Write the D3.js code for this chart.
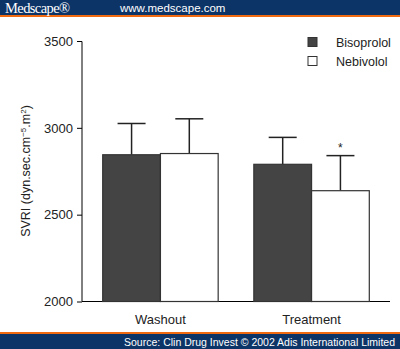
<!DOCTYPE html>
<html><head><meta charset="utf-8">
<script src="https://cdn.jsdelivr.net/npm/d3@7"></script>
<style>body{margin:0;background:#fff}svg{display:block;font-family:"Liberation Sans",Arial,sans-serif}</style>
</head><body>
<script>
const categories = ["Washout", "Treatment"];
const seriesNames = ["Bisoprolol", "Nebivolol"];
const bisoprolol = [2845, 2790];
const nebivolol = [2852, 2638];
const bisoprololSD = [180, 155];
const nebivololSD = [200, 202];
const yTicks = [2000, 2500, 3000, 3500];
const significant = [[false, false], [false, true]];

const W = 400, H = 349;
const svg = d3.select("body").append("svg").attr("width", W).attr("height", H);

// header / footer
svg.append("rect").attr("x",0).attr("y",0).attr("width",W).attr("height",15).attr("fill","#0c3467");
svg.append("rect").attr("x",0).attr("y",15).attr("width",W).attr("height",2).attr("fill","#f26a10");
svg.append("text").attr("x",5).attr("y",12.5).attr("fill","#fff").attr("font-family","'Liberation Serif',serif").attr("font-size",14.5).attr("letter-spacing",-0.6).text("Medscape®");
svg.append("text").attr("x",120).attr("y",12).attr("fill","#fff").attr("font-size",11.5).text("www.medscape.com");
svg.append("rect").attr("x",0).attr("y",332).attr("width",W).attr("height",2).attr("fill","#f26a10");
svg.append("rect").attr("x",0).attr("y",334).attr("width",W).attr("height",15).attr("fill","#0c3467");
svg.append("text").attr("x",395).attr("y",346).attr("text-anchor","end").attr("fill","#fff").attr("font-size",10.5).text("Source: Clin Drug Invest © 2002 Adis International Limited");

const y = d3.scaleLinear().domain([2000, 3500]).range([301.5, 41]);
const x0 = d3.scaleBand().domain(categories).range([82, 390]).paddingInner(0.236).paddingOuter(0.137);
const x1 = d3.scaleBand().domain(seriesNames).range([0, x0.bandwidth()]);

const g = svg.append("g");
const yAxis = d3.axisLeft(y).tickValues(yTicks).tickSize(5).tickPadding(4).tickFormat(d3.format("d"));
const ya = g.append("g").attr("transform","translate(82,0)").call(yAxis);
ya.select(".domain").attr("stroke","#000").attr("d","M-5,41.5H0V301.5");
ya.selectAll("text").attr("font-size",13).attr("fill","#222").attr("font-family","'Liberation Sans',Arial,sans-serif");
ya.selectAll("line").attr("stroke","#000");

const xAxis = d3.axisBottom(x0).tickSize(0).tickPadding(13);
const xa = g.append("g").attr("transform","translate(0,301.5)").call(xAxis);
xa.select(".domain").attr("stroke","#000").attr("d","M82,0H390");
xa.selectAll("text").attr("font-size",13).attr("fill","#222").attr("font-family","'Liberation Sans',Arial,sans-serif");

const fills = {Bisoprolol:"#444", Nebivolol:"#fff"};
const vals = {Bisoprolol: bisoprolol, Nebivolol: nebivolol};
const sds = {Bisoprolol: bisoprololSD, Nebivolol: nebivololSD};
const data = [];
categories.forEach((c,i)=>seriesNames.forEach((s,j)=>data.push({c, s, v: vals[s][i], sd: sds[s][i], sig: significant[i][j]})));

// error bars (behind bars)
const eb = g.append("g");
data.forEach(d=>{
  const cx = x0(d.c) + x1(d.s) + x1.bandwidth()/2;
  eb.append("line").attr("x1",cx).attr("x2",cx).attr("y1",y(d.v)).attr("y2",y(d.v+d.sd)).attr("stroke","#222").attr("stroke-width",1.5);
  eb.append("line").attr("x1",cx-14).attr("x2",cx+14).attr("y1",y(d.v+d.sd)).attr("y2",y(d.v+d.sd)).attr("stroke","#222").attr("stroke-width",1.5);
  if (d.sig) eb.append("text").attr("x",cx).attr("y",y(d.v+d.sd)-4).attr("text-anchor","middle").attr("font-size",12).attr("fill","#222").text("*");
});

g.append("g").selectAll("rect").data(data).join("rect")
  .attr("x", d=>x0(d.c)+x1(d.s)).attr("y", d=>y(d.v))
  .attr("width", x1.bandwidth()).attr("height", d=>y(2000)-y(d.v))
  .attr("fill", d=>fills[d.s]).attr("stroke","#333").attr("stroke-width",1.2);

// legend
const lg = svg.append("g");
seriesNames.forEach((s,i)=>{
  lg.append("rect").attr("x",308).attr("y",37.5+i*19).attr("width",9).attr("height",9).attr("fill",fills[s]).attr("stroke","#333");
  lg.append("text").attr("x",336).attr("y",46.5+i*19).attr("font-size",12.5).attr("fill","#222").text(s);
});

// y label
svg.append("text").attr("transform","translate(30,171) rotate(-90)").attr("text-anchor","middle").attr("font-size",12.5).attr("fill","#222")
  .html('SVRI (dyn.sec.cm<tspan baseline-shift="super" font-size="8">−5</tspan>.m<tspan baseline-shift="super" font-size="8">2</tspan>)');
</script>
</body></html>
